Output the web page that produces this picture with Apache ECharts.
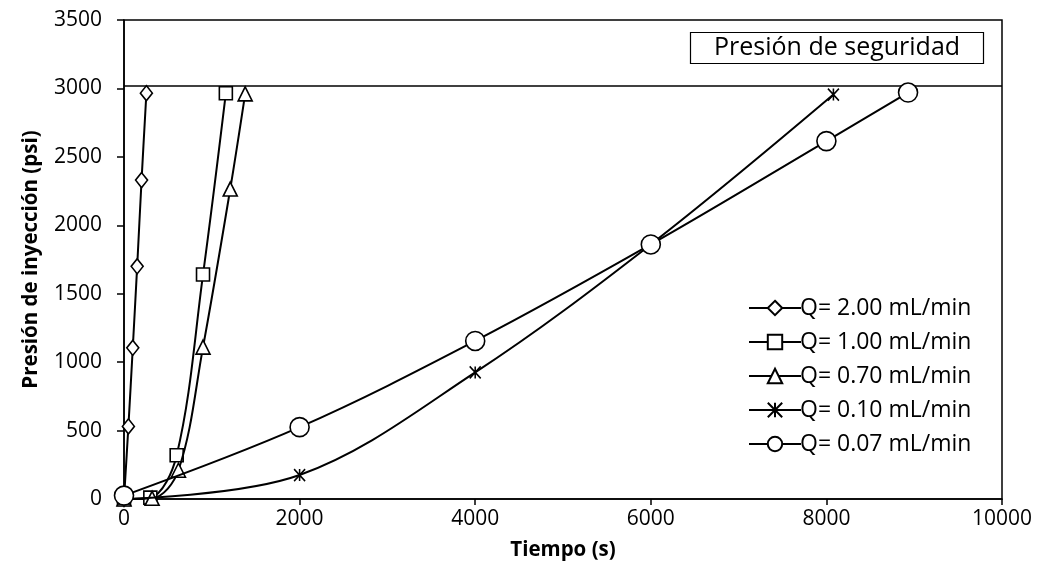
<!DOCTYPE html>
<html>
<head>
<meta charset="utf-8">
<script src="https://cdn.jsdelivr.net/npm/echarts@6/dist/echarts.min.js"></script>
<style>
  html, body { margin: 0; padding: 0; background: #fff; }
  #chart { width: 1041px; height: 588px; }
</style>
</head>
<body>
<div id="chart"></div>
<script>
// Injection pressure vs. time for each flow rate
const seriesNames = ['Q= 2.00 mL/min', 'Q= 1.00 mL/min', 'Q= 0.70 mL/min', 'Q= 0.10 mL/min', 'Q= 0.07 mL/min'];

const q200 = [[0, 0], [50, 530], [100, 1105], [150, 1700], [200, 2330], [255, 2965]];
const q100 = [[0, 0], [300, 10], [600, 320], [900, 1640], [1160, 2965]];
const q070 = [[0, 0], [320, 5], [620, 210], [900, 1110], [1210, 2265], [1380, 2960]];
const q010 = [[0, 0], [2000, 175], [4000, 925], [6000, 1860], [8080, 2955]];
const q007 = [[0, 25], [2000, 525], [4000, 1155], [6000, 1860], [8000, 2615], [8930, 2970]];

const safetyPressure = 3020;
const safetyLabel = 'Presión de seguridad';

const xTitle = 'Tiempo (s)';
const yTitle = 'Presión de inyección (psi)';

const FONT = 'Open Sans';
const asterisk = 'path://M0,0L10,12M10,0L0,12M5,0L5,12';

const markers = [
  { symbol: 'diamond', size: [12, 15] },
  { symbol: 'rect', size: 13 },
  { symbol: 'triangle', size: 14 },
  { symbol: asterisk, size: [11, 12] },
  { symbol: 'circle', size: 19 }
];
const datasets = [q200, q100, q070, q010, q007];

const series = datasets.map((d, i) => {
  const s = {
    name: seriesNames[i],
    type: 'line',
    data: d,
    smooth: 0.35,
    symbol: markers[i].symbol,
    symbolSize: markers[i].size,
    showAllSymbol: true,
    lineStyle: { color: '#000', width: 2 },
    itemStyle: { color: '#fff', borderColor: '#000', borderWidth: 1.6 },
    emphasis: { disabled: true },
    z: 3 + i
  };
  if (i === 0) {
    s.markLine = {
      silent: true,
      symbol: 'none',
      label: { show: false },
      lineStyle: { color: '#000', width: 1.5, type: 'solid' },
      data: [{ yAxis: safetyPressure }]
    };
  }
  return s;
});

const chart = echarts.init(document.getElementById('chart'), null, { renderer: 'canvas' });
chart.setOption({
  animation: false,
  backgroundColor: '#fff',
  textStyle: { fontFamily: FONT },
  title: {
    text: safetyLabel,
    left: 690,
    top: 32,
    padding: [2, 24, 2, 24],
    borderColor: '#000',
    borderWidth: 1.2,
    textStyle: { fontFamily: FONT, fontSize: 25, fontWeight: 'normal', color: '#000', lineHeight: 28 }
  },
  grid: {
    left: 124, right: 39, top: 20, bottom: 89,
    show: true, borderColor: '#000', borderWidth: 1.5, backgroundColor: '#fff'
  },
  legend: {
    orient: 'vertical',
    left: 743,
    top: 291,
    itemWidth: 52,
    itemHeight: 18,
    itemGap: 10,
    data: seriesNames,
    selectedMode: false,
    textStyle: { fontFamily: FONT, fontSize: 23, color: '#000', padding: [0, 0, 0, -6], lineHeight: 24 }
  },
  xAxis: {
    type: 'value',
    min: 0, max: 10000, interval: 2000,
    name: xTitle,
    nameLocation: 'middle',
    nameGap: 41,
    nameTextStyle: { fontFamily: FONT, fontSize: 20.5, fontWeight: 'bold', color: '#000' },
    axisLine: { show: true, lineStyle: { color: '#000', width: 1.5 } },
    axisTick: { show: true, inside: false, length: 6, lineStyle: { color: '#000', width: 1.5 } },
    axisLabel: { fontFamily: FONT, fontSize: 21, color: '#000', margin: 10, formatter: v => String(v) },
    splitLine: { show: false }
  },
  yAxis: {
    type: 'value',
    min: 0, max: 3500, interval: 500,
    name: yTitle,
    nameLocation: 'middle',
    nameGap: 82,
    nameTextStyle: { fontFamily: FONT, fontSize: 20.5, fontWeight: 'bold', color: '#000' },
    axisLine: { show: true, lineStyle: { color: '#000', width: 1.5 } },
    axisTick: { show: true, inside: false, length: 7, lineStyle: { color: '#000', width: 1.5 } },
    axisLabel: { fontFamily: FONT, fontSize: 21, color: '#000', margin: 22, formatter: v => String(v) },
    splitLine: { show: false }
  },
  series: series
});
</script>
</body>
</html>
